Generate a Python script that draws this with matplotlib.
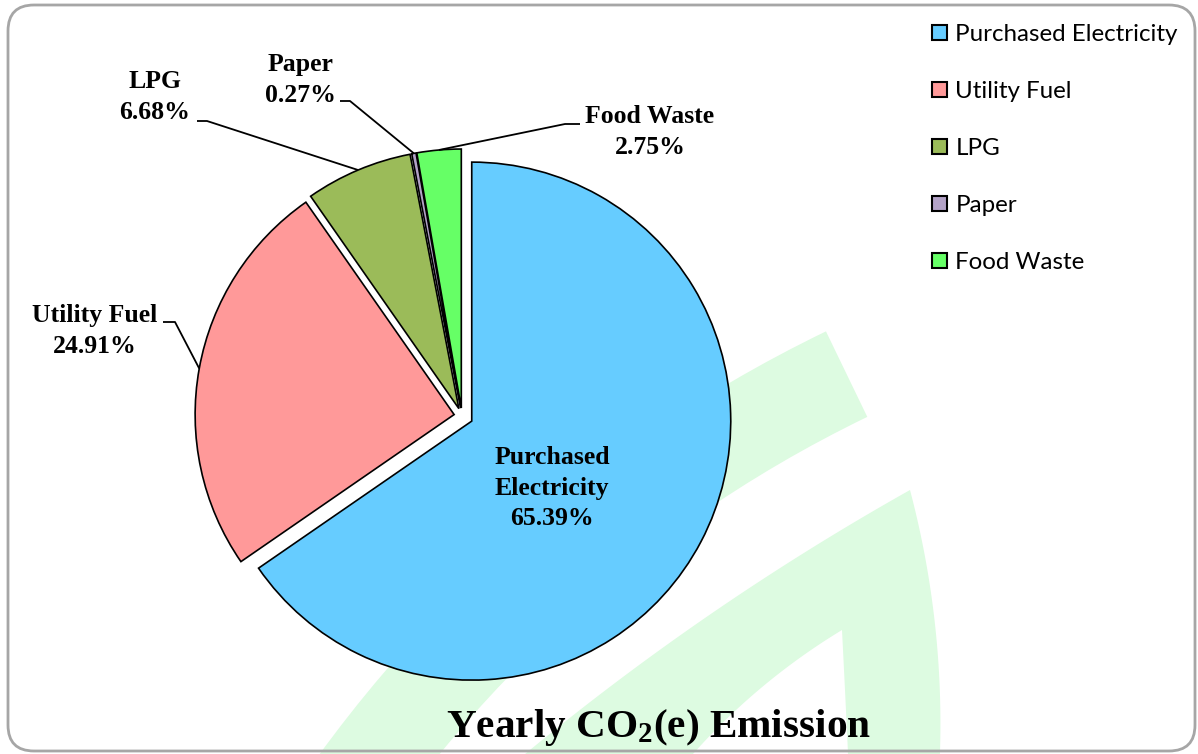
import numpy as np
import matplotlib
matplotlib.use("Agg")
import matplotlib.pyplot as plt
from matplotlib.patches import Wedge, FancyBboxPatch, PathPatch
from matplotlib.path import Path

W, H = 1198, 754

categories = ["Purchased Electricity", "Utility Fuel", "LPG", "Paper", "Food Waste"]
label_names = ["Purchased\nElectricity", "Utility Fuel", "LPG", "Paper", "Food Waste"]
shares = [65.39, 24.91, 6.68, 0.27, 2.75]
colors = ["#66CCFF", "#FF9999", "#9BBB59", "#B3A2C7", "#66FF66"]
explode = [11, 8, 8, 8, 8]  # pixels

plt.rcParams["mathtext.default"] = "regular"


def img(x, y):
    # image coords (y down) -> axes coords (y up)
    return x, H - y


def arc_through(p0, p1, p2, n=40):
    # points on the circle through three points, going p0 -> p1 -> p2
    (x1, y1), (x2, y2), (x3, y3) = p0, p1, p2
    d = 2 * (x1 * (y2 - y3) + x2 * (y3 - y1) + x3 * (y1 - y2))
    ux = ((x1**2 + y1**2) * (y2 - y3) + (x2**2 + y2**2) * (y3 - y1) + (x3**2 + y3**2) * (y1 - y2)) / d
    uy = ((x1**2 + y1**2) * (x3 - x2) + (x2**2 + y2**2) * (x1 - x3) + (x3**2 + y3**2) * (x2 - x1)) / d
    r = np.hypot(x1 - ux, y1 - uy)
    a0 = np.arctan2(y1 - uy, x1 - ux)
    a1 = np.arctan2(y2 - uy, x2 - ux)
    a2 = np.arctan2(y3 - uy, x3 - ux)
    def norm(a):
        return (a - a0) % (2 * np.pi)
    if norm(a1) < norm(a2):
        t = np.linspace(0, norm(a2), n)
    else:
        t = -np.linspace(0, 2 * np.pi - norm(a2), n)
    ang = a0 + t
    return np.column_stack([ux + r * np.cos(ang), uy + r * np.sin(ang)])


fig = plt.figure(figsize=(W / 100, H / 100), dpi=100)
ax = fig.add_axes([0, 0, 1, 1])

# --- background watermark (light green leaf arcs) ---
wm = "#DDFBE1"
ax.add_patch(Wedge(img(1417, 1554), 1358, 115.8, 152, width=95, facecolor=wm,
                   edgecolor="none", zorder=0))
outer_left = arc_through(img(500, 775), img(650, 657), img(910, 490))
outer_right = arc_through(img(910, 490), img(932, 600), img(939, 775))
inner_right = arc_through(img(849, 775), img(845, 690), img(842, 630))
inner_left = arc_through(img(842, 630), img(767, 683), img(675, 775))
verts = np.vstack([outer_left, outer_right[1:], inner_right, inner_left[1:], outer_left[:1]])
codes = [Path.MOVETO] + [Path.LINETO] * (len(verts) - 2) + [Path.CLOSEPOLY]
ax.add_patch(PathPatch(Path(verts, codes), facecolor=wm, edgecolor="none", zorder=0))

# --- pie ---
wedges, _ = ax.pie(shares, colors=colors, startangle=90, counterclock=False,
                   explode=explode, center=img(462, 416), radius=259,
                   wedgeprops=dict(edgecolor="black", linewidth=1.2, zorder=2))

lab_font = dict(family="Liberation Serif", weight="bold", fontsize=18.5, color="black")

# label text centers and leader elbows (image coords)
label_pos = [(552, 488), (95, 331), (155, 97), (300, 80), (650, 132)]
leader = [None, ((175, 322), (163, 322)), ((207, 121), (197, 121)),
          ((350, 101), (340, 101)), ((565, 124), (580, 124))]

for w, name, val, pos, ld in zip(wedges, label_names, shares, label_pos, leader):
    ax.text(*img(*pos), f"{name}\n{val:.2f}%", ha="center", va="center",
            linespacing=1.4, zorder=4, **lab_font)
    if ld is not None:
        mid = np.deg2rad((w.theta1 + w.theta2) / 2)
        ax0 = w.center[0] + w.r * np.cos(mid)
        ay0 = w.center[1] + w.r * np.sin(mid)
        ex, ey = img(*ld[0])
        tx, ty = img(*ld[1])
        ax.plot([ax0, ex, tx], [ay0, ey, ty], color="black", lw=1.3, zorder=3,
                solid_capstyle="butt")

# --- title ---
ax.text(*img(659, 728), "Yearly CO$_2$(e) Emission", ha="center", va="center",
        family="Liberation Serif", weight="bold", fontsize=29.7, zorder=4)

# --- legend ---
leg = ax.legend(wedges, categories, loc="upper left",
                bbox_to_anchor=(932 / W, (H - 24) / H), frameon=False,
                prop=dict(family="Lato", size=17.4), handlelength=0.62, handleheight=0.62,
                handletextpad=0.35, labelspacing=1.49, borderpad=0, borderaxespad=0)
for h in leg.legend_handles:
    h.set_edgecolor("black")
    h.set_linewidth(1.5)

# --- rounded border ---
ax.add_patch(FancyBboxPatch(img(8, 751), 1187, 746,
                            boxstyle="round,pad=0,rounding_size=26",
                            facecolor="none", edgecolor="#A6A6A6", lw=2, zorder=5))

ax.set_xlim(0, W)
ax.set_ylim(0, H)
ax.set_aspect("equal")
ax.axis("off")

fig.savefig("out.png", dpi=100)
